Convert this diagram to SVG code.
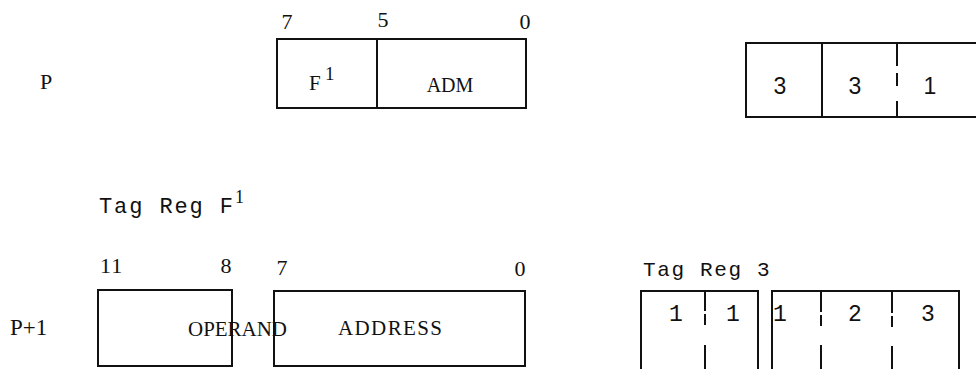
<svg xmlns="http://www.w3.org/2000/svg" width="976" height="369" viewBox="0 0 976 369">
<style>
.ln{stroke:#111;stroke-width:2;fill:none;stroke-linecap:square}
.sf{font-family:"Liberation Serif","Times New Roman",serif;fill:#111}
.mn{font-family:"Liberation Mono","Courier New",monospace;fill:#111}
.ss{font-family:"Liberation Sans",Arial,sans-serif;fill:#111}
.c{text-anchor:middle}
</style>
<rect width="976" height="369" fill="#fff"/>
<g id="label-P"><text class="sf" x="40" y="89" font-size="22">P</text></g>
<g id="word-P">
  <text class="sf c" x="287" y="29" font-size="22">7</text>
  <text class="sf c" x="383" y="27" font-size="22">5</text>
  <text class="sf c" x="525" y="29" font-size="22">0</text>
  <rect class="ln" x="277" y="39" width="249" height="69"/>
  <line class="ln" x1="377" y1="39" x2="377" y2="108"/>
  <text class="sf" x="309" y="90" font-size="21">F</text>
  <text class="sf" x="325" y="80" font-size="19">1</text>
  <text class="sf c" x="450" y="92" font-size="20">ADM</text>
</g>
<g id="tag-P">
  <polyline class="ln" points="976,43 746,43 746,117 976,117"/>
  <line class="ln" x1="822" y1="43" x2="822" y2="117"/>
  <path class="ln" d="M897 43V65M897 74V85M897 102V117"/>
  <text class="ss c" x="780" y="94" font-size="23">3</text>
  <text class="ss c" x="855" y="94" font-size="23">3</text>
  <text class="ss c" x="930" y="94" font-size="23">1</text>
</g>
<g id="title-tagreg-F1">
  <text class="mn" x="99" y="213" font-size="22" letter-spacing="1.9">Tag Reg F</text>
  <text class="sf" x="235" y="203" font-size="18">1</text>
</g>
<g id="label-P1"><text class="sf" x="10" y="335" font-size="23">P+1</text></g>
<g id="word-P1">
  <text class="sf" x="100" y="273" font-size="22" letter-spacing="1">11</text>
  <text class="sf c" x="226" y="273" font-size="22">8</text>
  <text class="sf c" x="282" y="275" font-size="22">7</text>
  <text class="sf c" x="520" y="276" font-size="22">0</text>
  <rect class="ln" x="98" y="290" width="134" height="76"/>
  <rect class="ln" x="274" y="291" width="251" height="75"/>
  <text class="sf" x="188" y="336" font-size="21" textLength="99" lengthAdjust="spacingAndGlyphs">OPERAND</text>
  <text class="sf" x="338" y="335" font-size="21" textLength="104" lengthAdjust="spacing">ADDRESS</text>
</g>
<g id="tagreg-3">
  <text class="mn" x="643" y="276" font-size="21" letter-spacing="1.65">Tag Reg 3</text>
  <polyline class="ln" points="641,370 641,291 758,291 758,370"/>
  <path class="ln" d="M705 291V310M705 315V324M705 346V370"/>
  <polyline class="ln" points="772,370 772,291 959,291 959,370"/>
  <path class="ln" d="M821 291V311M821 316V325M821 346V370"/>
  <path class="ln" d="M892 291V312M892 317V326M892 347V370"/>
  <text class="mn c" x="676" y="321" font-size="23">1</text>
  <text class="mn c" x="733" y="321" font-size="23">1</text>
  <text class="mn c" x="780" y="321" font-size="23">1</text>
  <text class="mn c" x="855" y="321" font-size="23">2</text>
  <text class="mn c" x="928" y="321" font-size="23">3</text>
</g>
</svg>
